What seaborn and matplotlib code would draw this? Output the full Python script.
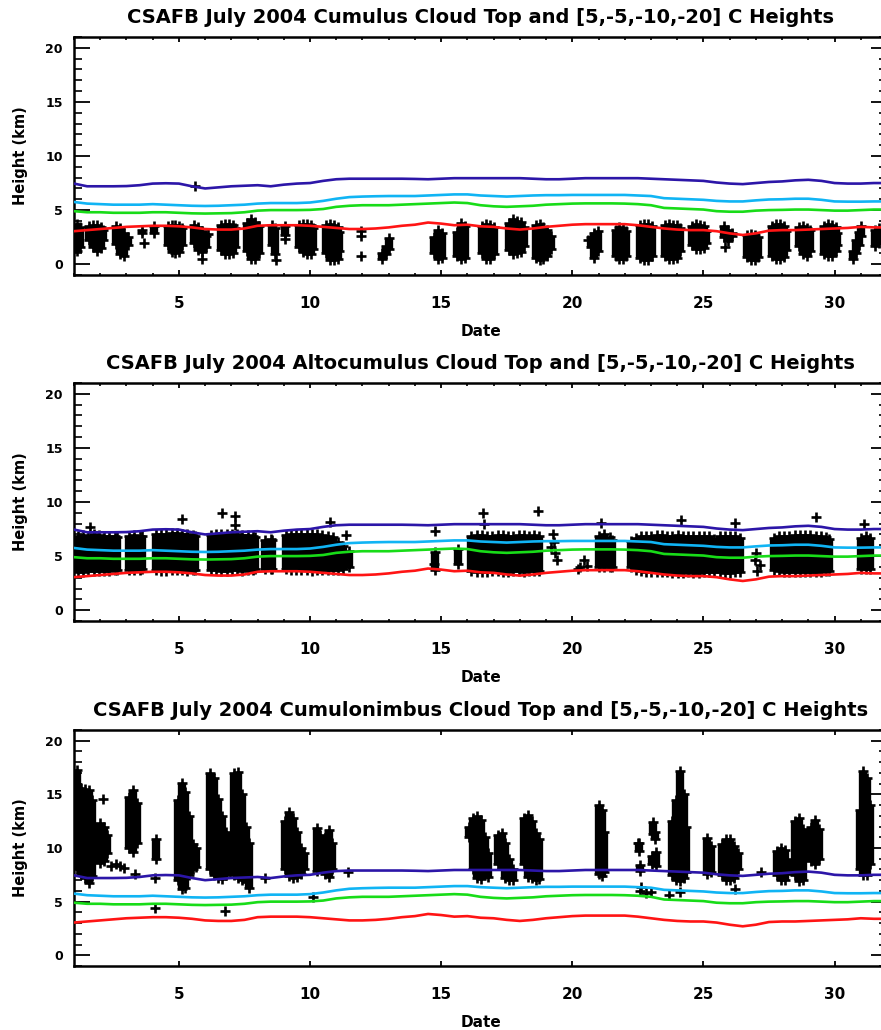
import matplotlib
matplotlib.use("Agg")
import matplotlib.pyplot as plt
import seaborn as sns
import pandas as pd
from matplotlib.ticker import MultipleLocator, FixedLocator

sns.set_style("white")
plt.rcParams["font.family"] = ["DejaVu Sans"]
plt.rcParams["font.weight"] = "bold"
for key in ["text.color", "axes.labelcolor", "xtick.color", "ytick.color", "axes.edgecolor"]:
    plt.rcParams[key] = "black"

# ---------------------------------------------------------------------------
# Temperature-level heights (km) over July 2004
# ---------------------------------------------------------------------------
level_date = [1.0, 1.5, 2.0, 2.5, 3.0, 3.5, 4.0, 4.5, 5.0, 5.5, 6.0, 6.5, 7.0, 7.5,
              8.0, 8.5, 9.0, 9.5, 10.0, 10.5, 11.0, 11.5, 12.0, 12.5, 13.0, 13.5,
              14.0, 14.5, 15.0, 15.5, 16.0, 16.5, 17.0, 17.5, 18.0, 18.5, 19.0,
              19.5, 20.0, 20.5, 21.0, 21.5, 22.0, 22.5, 23.0, 23.5, 24.0, 24.5,
              25.0, 25.5, 26.0, 26.5, 27.0, 27.5, 28.0, 28.5, 29.0, 29.5, 30.0,
              30.5, 31.0, 31.5, 32.0]
h_plus5 = [3.05, 3.15, 3.25, 3.35, 3.45, 3.5, 3.55, 3.55, 3.5, 3.4, 3.25, 3.2, 3.2, 3.3,
           3.55, 3.6, 3.6, 3.6, 3.55, 3.45, 3.35, 3.25, 3.25, 3.3, 3.4, 3.55,
           3.65, 3.85, 3.75, 3.6, 3.65, 3.5, 3.45, 3.3, 3.2, 3.3, 3.45,
           3.55, 3.65, 3.7, 3.7, 3.7, 3.7, 3.6, 3.45, 3.3, 3.2, 3.15,
           3.15, 3.05, 2.85, 2.7, 2.85, 3.1, 3.15, 3.15, 3.2, 3.25, 3.3,
           3.35, 3.45, 3.4, 3.4]
h_minus5 = [4.9, 4.8, 4.8, 4.75, 4.75, 4.75, 4.8, 4.8, 4.75, 4.7, 4.68, 4.7, 4.72, 4.8,
            4.95, 5.0, 5.0, 5.0, 5.02, 5.1, 5.3, 5.4, 5.45, 5.45, 5.45, 5.5,
            5.55, 5.6, 5.65, 5.7, 5.65, 5.45, 5.35, 5.3, 5.35, 5.4, 5.5,
            5.55, 5.6, 5.62, 5.62, 5.62, 5.6, 5.55, 5.45, 5.2, 5.15, 5.1,
            5.05, 4.9, 4.85, 4.85, 4.95, 5.0, 5.02, 5.05, 5.05, 5.0, 4.95,
            4.95, 5.0, 5.05, 5.05]
h_minus10 = [5.75, 5.6, 5.55, 5.5, 5.5, 5.5, 5.55, 5.5, 5.45, 5.4, 5.38, 5.4, 5.45, 5.5,
             5.6, 5.65, 5.65, 5.65, 5.7, 5.85, 6.05, 6.2, 6.25, 6.28, 6.3, 6.3,
             6.3, 6.35, 6.4, 6.45, 6.45, 6.35, 6.3, 6.25, 6.3, 6.35, 6.38,
             6.38, 6.4, 6.4, 6.4, 6.4, 6.4, 6.35, 6.3, 6.1, 6.05, 6.0,
             5.95, 5.85, 5.8, 5.8, 5.9, 5.98, 6.0, 6.05, 6.05, 5.95, 5.8,
             5.78, 5.78, 5.8, 5.8]
h_minus20 = [7.45, 7.2, 7.2, 7.2, 7.22, 7.3, 7.45, 7.48, 7.45, 7.2, 7.0, 7.1, 7.2, 7.25,
             7.3, 7.2, 7.35, 7.45, 7.5, 7.7, 7.85, 7.9, 7.9, 7.9, 7.9, 7.9,
             7.88, 7.85, 7.9, 7.95, 7.95, 7.95, 7.95, 7.95, 7.95, 7.9, 7.85,
             7.85, 7.9, 7.95, 7.95, 7.95, 7.95, 7.95, 7.9, 7.85, 7.8, 7.75,
             7.7, 7.55, 7.45, 7.4, 7.5, 7.6, 7.65, 7.75, 7.8, 7.7, 7.5,
             7.45, 7.45, 7.5, 7.5]

# ---------------------------------------------------------------------------
# Cumulus cloud tops: observation windows (date, lowest top, highest top)
# ---------------------------------------------------------------------------
cu_date = [1.10, 1.22,
           1.58, 1.73, 1.88, 2.02, 2.10,
           2.60, 2.75, 2.90, 3.05,
           3.60, 4.05,
           4.57, 4.72, 4.87, 5.02, 5.10,
           5.58, 5.73, 5.88, 6.02,
           6.60, 6.75, 6.90, 7.05, 7.12,
           7.60, 7.75, 7.90, 8.05,
           8.55, 8.68, 9.05,
           9.58, 9.73, 9.88, 10.03, 10.13,
           10.60, 10.75, 10.90, 11.05, 11.10,
           12.75, 12.88, 13.00,
           14.72, 14.87, 15.02,
           15.60, 15.75, 15.90,
           16.57, 16.72, 16.87, 17.00,
           17.58, 17.73, 17.88, 18.03, 18.15,
           18.60, 18.75, 18.90, 19.05, 19.17,
           20.70, 20.83, 20.97,
           21.65, 21.80, 21.95, 22.03,
           22.60, 22.75, 22.90, 23.03,
           23.55, 23.70, 23.85, 24.00, 24.12,
           24.57, 24.72, 24.87, 25.02, 25.08,
           25.78, 25.92, 26.08,
           26.67, 26.82, 26.97, 27.10,
           27.62, 27.77, 27.92, 28.07, 28.13,
           28.64, 28.79, 28.94, 29.08,
           29.60, 29.75, 29.90, 30.05, 30.10,
           30.72, 30.83, 30.93, 31.00,
           31.55, 31.70]
cu_low = [1.2, 1.6,
          2.2, 1.6, 1.2, 1.5, 2.2,
          1.9, 0.9, 0.8, 1.8,
          2.9, 2.9,
          1.8, 1.1, 1.0, 1.1, 1.8,
          2.0, 1.3, 1.1, 1.6,
          1.3, 0.95, 0.9, 1.0, 1.6,
          1.2, 0.5, 0.5, 1.0,
          1.8, 0.9, 2.7,
          1.6, 1.1, 0.95, 0.95, 1.4,
          1.0, 0.35, 0.35, 0.5, 1.2,
          0.5, 0.9, 1.4,
          1.0, 0.5, 0.6,
          0.8, 0.5, 0.6,
          1.0, 0.5, 0.5, 0.9,
          1.3, 0.9, 1.0, 1.1, 1.7,
          0.6, 0.35, 0.5, 0.8, 1.4,
          1.6, 0.6, 1.2,
          0.8, 0.5, 0.45, 0.8,
          0.6, 0.35, 0.35, 0.8,
          0.8, 0.5, 0.5, 0.6, 1.2,
          1.8, 1.4, 1.4, 1.5, 2.0,
          2.5, 2.1, 2.6,
          0.7, 0.35, 0.35, 0.7,
          0.8, 0.5, 0.5, 0.7, 1.3,
          1.7, 0.9, 0.8, 1.2,
          0.9, 0.8, 0.8, 1.2, 1.8,
          0.5, 1.0, 1.8, 2.6,
          1.7, 2.0]
cu_high = [3.7, 3.4,
           3.5, 3.65, 3.6, 3.45, 3.2,
           3.5, 3.3, 2.9, 2.5,
           3.2, 3.5,
           3.5, 3.6, 3.6, 3.55, 3.3,
           3.6, 3.4, 3.1, 2.6,
           3.6, 3.7, 3.7, 3.65, 3.3,
           3.8, 4.15, 3.9, 3.5,
           3.6, 3.3, 3.5,
           3.6, 3.7, 3.7, 3.6, 3.3,
           3.6, 3.7, 3.6, 3.4, 3.0,
           1.0, 1.7, 2.4,
           2.5, 3.2, 2.9,
           3.0, 3.8, 3.5,
           3.5, 3.7, 3.6, 3.4,
           3.8, 4.15, 4.0, 3.9, 3.4,
           3.6, 3.7, 3.4, 3.2, 2.6,
           2.5, 2.9, 3.1,
           3.2, 3.4, 3.3, 3.1,
           3.6, 3.7, 3.7, 3.5,
           3.6, 3.7, 3.6, 3.6, 3.3,
           3.5, 3.7, 3.6, 3.5, 3.1,
           3.5, 3.2, 2.9,
           2.7, 2.8, 2.7, 2.5,
           3.5, 3.7, 3.7, 3.5, 3.1,
           3.4, 3.5, 3.3, 3.2,
           3.5, 3.7, 3.6, 3.4, 2.9,
           1.2, 2.2, 3.0, 3.5,
           3.2, 3.3]
cu_pt_date = [3.68, 5.61, 5.87, 6.12, 8.72, 9.05, 11.96, 11.96, 11.96, 20.60, 25.82]
cu_pt_height = [2.0, 7.2, 0.5, 2.8, 0.35, 2.3, 3.1, 2.6, 0.75, 2.2, 1.6]

# ---------------------------------------------------------------------------
# Altocumulus cloud tops
# ---------------------------------------------------------------------------
ac_date = [1.15, 1.35, 1.55, 1.75, 1.95, 2.15, 2.35, 2.55, 2.65,
           3.10, 3.30, 3.50, 3.60,
           4.12, 4.32, 4.52, 4.72, 4.92, 5.12, 5.32, 5.52, 5.63,
           6.22, 6.42, 6.62, 6.82, 7.02, 7.22, 7.42, 7.62, 7.82, 7.92,
           8.30, 8.50, 8.56,
           9.07, 9.27, 9.47, 9.67, 9.87, 10.07, 10.27, 10.47, 10.67, 10.87,
           11.07, 11.27, 11.47,
           14.76, 15.65,
           16.15, 16.35, 16.55, 16.75, 16.95, 17.15, 17.35, 17.55, 17.75,
           17.95, 18.15, 18.35, 18.55, 18.72,
           21.02, 21.22, 21.42, 21.52,
           22.22, 22.42, 22.62, 22.82, 23.02, 23.22, 23.42, 23.62, 23.82,
           24.02, 24.22, 24.42, 24.62, 24.82, 25.02, 25.22, 25.42, 25.62,
           25.82, 26.02, 26.22, 26.40,
           27.68, 27.88, 28.08, 28.28, 28.48, 28.68, 28.88, 29.08, 29.28,
           29.48, 29.68, 29.78,
           31.00, 31.20, 31.35]
ac_low = [3.5, 3.55, 3.6, 3.65, 3.6, 3.65, 3.65, 3.7, 3.7,
          3.75, 3.7, 3.7, 3.8,
          3.7, 3.65, 3.65, 3.7, 3.7, 3.7, 3.65, 3.7, 3.75,
          3.75, 3.7, 3.65, 3.65, 3.7, 3.7, 3.65, 3.7, 3.75, 3.8,
          3.85, 3.8, 3.8,
          3.8, 3.7, 3.7, 3.7, 3.7, 3.65, 3.7, 3.75, 3.75, 3.7,
          3.75, 3.8, 3.95,
          3.7, 4.3,
          3.6, 3.55, 3.5, 3.55, 3.6, 3.6, 3.55, 3.55, 3.6,
          3.6, 3.55, 3.6, 3.6, 3.65,
          4.0, 3.95, 4.0, 4.0,
          4.0, 3.7, 3.6, 3.55, 3.55, 3.5, 3.5, 3.5, 3.45,
          3.45, 3.45, 3.5, 3.45, 3.45, 3.5, 3.5, 3.55, 3.5,
          3.45, 3.45, 3.5, 3.55,
          3.7, 3.6, 3.55, 3.55, 3.5, 3.5, 3.55, 3.55, 3.5,
          3.55, 3.6, 3.65,
          3.8, 3.8, 3.85]
ac_high = [6.9, 6.95, 6.9, 7.0, 6.95, 6.9, 6.85, 6.9, 6.8,
           6.9, 6.95, 6.9, 6.85,
           7.0, 7.05, 7.05, 7.1, 7.1, 7.05, 7.0, 6.95, 6.9,
           6.95, 7.0, 7.05, 7.05, 7.0, 7.0, 6.95, 6.95, 6.9, 6.8,
           6.5, 6.6, 6.5,
           6.95, 7.0, 7.05, 7.05, 7.0, 7.0, 7.0, 6.95, 6.9, 6.8,
           6.3, 5.9, 5.5,
           5.4, 5.7,
           6.9, 6.95, 6.95, 6.9, 6.9, 6.95, 6.95, 6.9, 6.9,
           6.95, 6.95, 6.9, 6.95, 6.9,
           6.9, 7.0, 6.8, 6.5,
           6.4, 6.7, 6.85, 6.9, 6.9, 6.95, 6.95, 6.9, 6.9,
           6.95, 6.9, 6.9, 6.9, 6.85, 6.9, 6.85, 6.6, 6.85,
           6.9, 6.9, 6.85, 6.7,
           6.7, 6.85, 6.9, 6.9, 6.95, 6.95, 6.95, 6.95, 6.9,
           6.9, 6.8, 6.6,
           6.7, 6.85, 6.7]
ac_pt_date = [1.60, 5.10, 6.63, 7.14, 7.14, 10.76, 11.39, 14.76, 14.72, 16.60,
              16.65, 18.69, 19.25, 19.30, 19.20, 19.35, 19.40, 20.20, 20.30,
              20.45, 20.55, 21.10, 24.16, 26.19, 27.00, 26.95, 27.05, 27.15,
              29.30, 31.14]
ac_pt_height = [7.7, 8.43, 9.0, 8.7, 7.9, 8.18, 6.95, 7.35, 4.3, 8.94,
                7.95, 9.19, 7.0, 6.3, 5.8, 5.3, 4.6, 3.85, 4.0,
                4.6, 4.1, 8.1, 8.32, 8.1, 5.3, 4.6, 3.6, 4.2,
                8.57, 7.95]

# ---------------------------------------------------------------------------
# Cumulonimbus cloud tops
# ---------------------------------------------------------------------------
cb_date = [1.12, 1.27, 1.42, 1.57, 1.68,
           2.00, 2.15, 2.25,
           3.10, 3.25, 3.42,
           4.12,
           4.95, 5.10, 5.25, 5.38, 5.55, 5.66,
           6.20, 6.35, 6.50, 6.65, 6.78,
           7.10, 7.25, 7.40, 7.55, 7.68,
           9.05, 9.20, 9.35, 9.50, 9.65, 9.78,
           10.25, 10.38, 10.58, 10.73, 10.85,
           16.05, 16.22, 16.38, 16.52, 16.68, 16.80,
           17.18, 17.32, 17.45, 17.58, 17.75,
           18.15, 18.30, 18.45, 18.60, 18.72,
           21.00, 21.12, 21.22,
           22.55, 22.60, 23.07, 23.15, 23.05, 23.20,
           23.80, 23.95, 24.10, 24.25, 24.35,
           25.12, 25.28,
           25.70, 25.85, 26.00, 26.15, 26.32,
           27.80, 27.95, 28.10, 28.20,
           28.50, 28.65, 28.80,
           29.12, 29.27, 29.40,
           30.97, 31.10, 31.25, 31.35]
cb_low = [8.0, 7.6, 7.2, 6.7, 7.4,
          8.6, 8.8, 9.5,
          10.0, 9.6, 10.5,
          9.0,
          7.0, 6.2, 6.3, 7.5, 8.0, 8.2,
          8.0, 7.5, 7.2, 7.1, 7.5,
          7.5, 7.2, 7.0, 6.8, 6.3,
          8.0, 7.4, 7.2, 7.3, 7.6, 8.0,
          7.9, 8.5, 7.6, 7.3, 8.0,
          11.0, 8.0, 7.2, 7.1, 7.6, 7.3,
          8.5, 8.0, 7.2, 7.0, 7.0,
          8.5, 7.3, 7.2, 7.0, 7.1,
          7.6, 7.4, 7.8,
          9.7, 7.9, 11.3, 10.8, 8.5, 8.3,
          7.5, 7.0, 6.9, 7.2, 7.8,
          7.6, 7.8,
          7.5, 7.0, 7.0, 7.2, 8.0,
          7.5, 7.0, 7.0, 7.6,
          7.5, 6.9, 7.0,
          8.8, 8.5, 9.0,
          8.0, 7.5, 7.5, 8.5]
cb_high = [17.3, 15.6, 15.5, 15.4, 14.5,
           12.3, 12.0, 11.2,
           14.8, 15.4, 14.2,
           10.8,
           14.5, 16.1, 15.2, 13.0, 10.4, 10.0,
           17.0, 16.5, 14.6, 13.0, 11.5,
           17.0, 17.1, 15.0, 12.0, 10.5,
           12.5, 13.4, 12.8, 11.5, 10.0, 9.5,
           11.9, 11.2, 11.0, 11.7, 10.5,
           12.0, 12.8, 13.0, 12.6, 11.0, 9.5,
           11.2, 11.4, 10.5, 9.0, 8.0,
           12.8, 13.1, 12.5, 11.4, 10.8,
           14.0, 13.5, 11.5,
           10.5, 8.4, 12.4, 11.5, 9.3, 9.6,
           12.5, 14.5, 17.2, 15.0, 12.0,
           10.9, 10.2,
           10.4, 10.8, 10.8, 10.2, 9.5,
           9.7, 10.0, 9.8, 9.0,
           12.5, 12.8, 11.8,
           12.0, 12.6, 11.8,
           13.5, 17.2, 16.5, 14.0]
cb_pt_date = [2.12, 2.42, 2.60, 2.75, 2.90, 3.33, 4.10, 4.10, 6.75, 8.28, 10.12,
              11.45, 22.50, 22.62, 22.58, 22.80, 23.00, 23.70, 24.10, 26.20, 27.20]
cb_pt_height = [14.6, 8.3, 8.5, 8.3, 8.1, 7.6, 7.2, 4.4, 4.1, 7.2, 5.4,
                7.8, 10.5, 6.4, 6.0, 5.8, 5.9, 5.6, 5.9, 6.2, 7.8]

titles = ["CSAFB July 2004 Cumulus Cloud Top and [5,-5,-10,-20] C Heights",
          "CSAFB July 2004 Altocumulus Cloud Top and [5,-5,-10,-20] C Heights",
          "CSAFB July 2004 Cumulonimbus Cloud Top and [5,-5,-10,-20] C Heights"]
level_colors = ["#ff1414", "#18dc18", "#10b4f4", "#2c16a8"]
x_major = [5, 10, 15, 20, 25, 30]
y_major = [0, 5, 10, 15, 20]

W, H = 881, 1030
fig = plt.figure(figsize=(W / 100, H / 100), dpi=100)
fig.patch.set_facecolor("white")


def px_axes(left, top, right, bottom):
    return fig.add_axes([left / W, 1 - bottom / H, (right - left) / W, (bottom - top) / H])


def draw_panel(ax, title, col_date, col_low, col_high, pt_date, pt_height, minor_x):
    # dense bursts of cloud-top reports: span of each observation window
    ax.vlines(col_date, col_low, col_high, colors="black", linewidth=6.0, zorder=2)
    marks = pd.DataFrame({
        "date": list(col_date) + list(col_date) + list(pt_date),
        "height": list(col_low) + list(col_high) + list(pt_height),
    })
    sns.scatterplot(data=marks, x="date", y="height", marker="+", s=44,
                    color="black", linewidth=1.9, ax=ax, zorder=3, legend=False)
    for h, c in zip([h_plus5, h_minus5, h_minus10, h_minus20], level_colors):
        sns.lineplot(x=level_date, y=h, color=c, linewidth=1.9, ax=ax, zorder=4)

    ax.set_xlim(1, 32)
    ax.set_ylim(-1, 21)
    ax.xaxis.set_major_locator(FixedLocator(x_major))
    ax.set_xticklabels([str(v) for v in x_major])
    if minor_x:
        ax.xaxis.set_minor_locator(MultipleLocator(1))
    ax.yaxis.set_major_locator(FixedLocator(y_major))
    ax.set_yticklabels([str(v) for v in y_major])
    ax.yaxis.set_minor_locator(MultipleLocator(1))

    ax.tick_params(axis="x", which="major", direction="in", length=3.6, width=1.3,
                   top=True, bottom=True, pad=15, labelsize=11)
    ax.tick_params(axis="x", which="minor", direction="in", length=1.8, width=1.2,
                   top=True, bottom=True)
    ax.tick_params(axis="y", which="major", direction="in", length=11.5, width=1.3,
                   left=True, right=True, pad=8, labelsize=9)
    ax.tick_params(axis="y", which="minor", direction="in", length=5.8, width=1.2,
                   left=True, right=True)
    for lab in ax.get_xticklabels() + ax.get_yticklabels():
        lab.set_fontweight("bold")
    for sp in ax.spines.values():
        sp.set_linewidth(1.8)
        sp.set_color("black")

    ax.set_title(title, fontsize=14, fontweight="bold", pad=10)
    ax.set_xlabel("Date", fontsize=11, fontweight="bold")
    ax.set_ylabel("Height (km)", fontsize=10.5, fontweight="bold")
    ax.yaxis.set_label_coords(-0.057, 0.5)


panels = [
    ((74, 37, 887, 275), cu_date, cu_low, cu_high, cu_pt_date, cu_pt_height, True),
    ((74, 383, 887, 621), ac_date, ac_low, ac_high, ac_pt_date, ac_pt_height, True),
    ((74, 730, 887, 966), cb_date, cb_low, cb_high, cb_pt_date, cb_pt_height, False),
]
for title, (box, d, lo, hi, pd_, ph, mx) in zip(titles, panels):
    ax = px_axes(*box)
    draw_panel(ax, title, d, lo, hi, pd_, ph, mx)
    ax.xaxis.set_label_coords(0.5, -49 / (box[3] - box[1]))

fig.savefig("out.png", dpi=100, facecolor="white")
